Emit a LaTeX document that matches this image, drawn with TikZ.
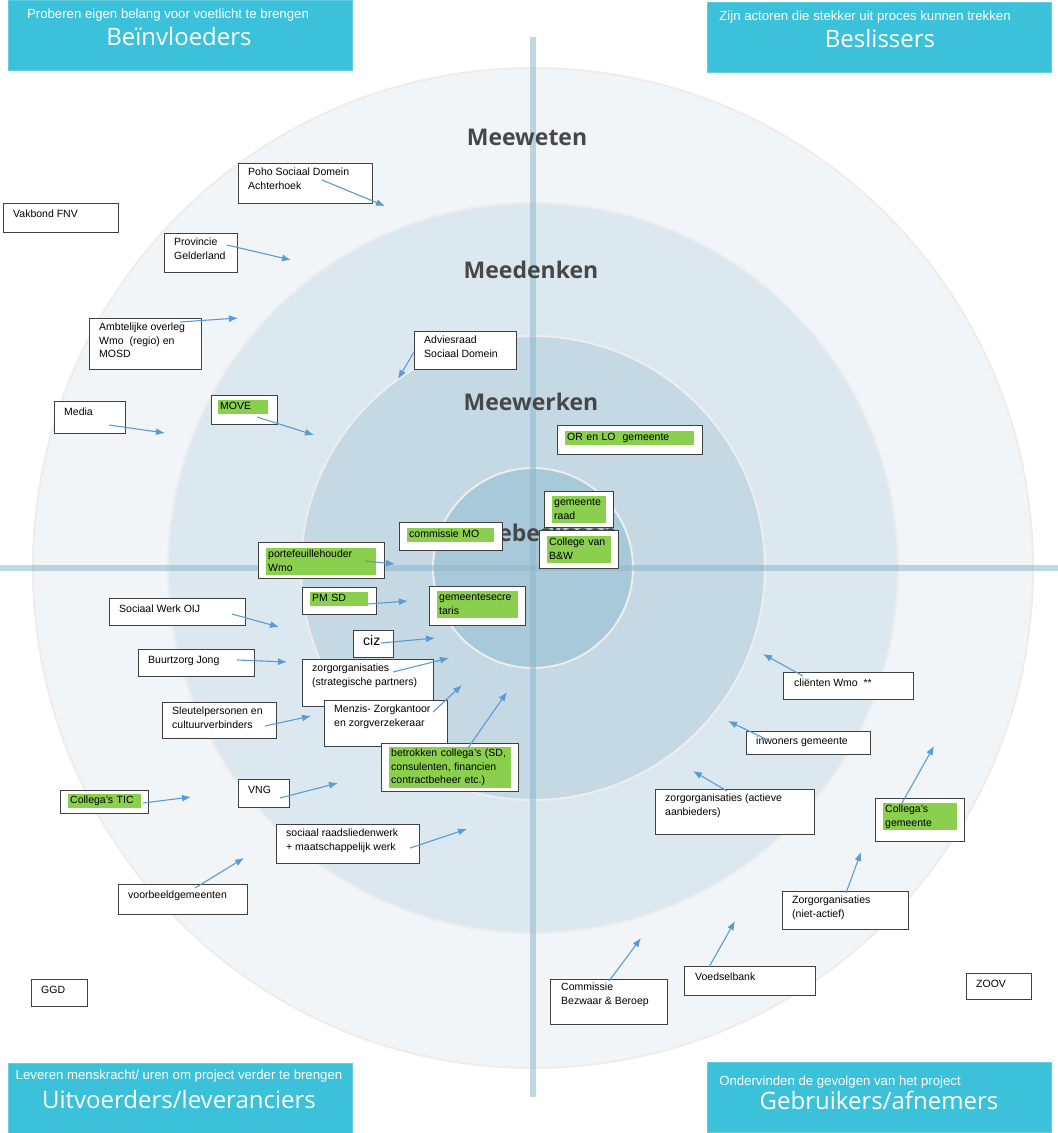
\documentclass[tikz,border=0pt]{standalone}
\usepackage{fontspec}
\setmainfont{Liberation Sans}
\newfontfamily\headfont{Open Sans}
\usetikzlibrary{arrows.meta}

\definecolor{ringA}{HTML}{F1F5F8}
\definecolor{ringB}{HTML}{DCE8EF}
\definecolor{ringC}{HTML}{C4D9E4}
\definecolor{ringD}{HTML}{A8C9D9}
\definecolor{crossblue}{HTML}{8DB8CC}
\definecolor{headblue}{RGB}{59,193,217}
\definecolor{grn}{HTML}{8BCF4E}
\definecolor{arrblue}{HTML}{5B9BD5}

\tikzset{
  ring/.style={draw=black!7, line width=2pt},
  cross/.style={draw=crossblue, opacity=0.55, line width=6pt},
  ringlabel/.style={font=\headfont\bfseries\fontsize{23}{26}\selectfont, text=black!72},
  header/.style={fill=headblue, draw=headblue!80, anchor=north west, inner sep=0pt, minimum width=344pt, minimum height=70pt},
  headsub/.style={font=\fontsize{13.2}{15}\selectfont, text=white, inner sep=0pt},
  headtitle/.style={font=\headfont\fontsize{24}{28}\selectfont, text=white, inner sep=0pt},
  actor/.style={draw=black!75, fill=white, line width=1.1pt, anchor=north west, inner sep=0pt},
  txt/.style={anchor=north west, inner xsep=2pt, inner ysep=0pt, align=left,
    execute at begin node=\strut, execute at end node=\strut},
  green/.style={txt, fill=grn},
  arr/.style={-{Latex[length=9pt,width=7pt]}, line width=1.1pt, draw=arrblue},
}

\begin{document}
\begin{tikzpicture}[x=1pt,y=-1pt]
\tikzstyle{every node}=[font=\fontsize{10.5}{13.5}\selectfont]
\useasboundingbox (0,0) rectangle (1058,1133);

% rings
\fill[ringA] (533,568) circle (500pt);
\draw[ring] (533,568) circle (500pt);
\fill[ringB] (533,568) circle (365pt);
\draw[ring] (533,568) circle (365pt);
\fill[ringC] (533,568) circle (232pt);
\draw[ring] (533,568) circle (232pt);
\fill[ringD] (533,568) circle (100pt);
\draw[ring] (533,568) circle (100pt);

\draw[cross] (0,568) -- (1058,568);
\draw[cross] (533,37) -- (533,1097);

\node[ringlabel] at (527,137) (meeweten) {Meeweten};
\node[ringlabel] at (531,270) (meedenken) {Meedenken};
\node[ringlabel] at (531,402) (meewerken) {Meewerken};
\node[ringlabel] at (540,533) (meebeslissen) {Meebeslissen};

% headers
\node[header] at (8,0) (beinv) {};
\node[headsub] at (168,15) {Proberen eigen belang voor voetlicht te brengen};
\node[headtitle] at (179,36) {Beïnvloeders};

\node[header] at (707,2) (besl) {};
\node[headsub] at (865,17) {Zijn actoren die stekker uit proces kunnen trekken};
\node[headtitle] at (880,38) {Beslissers};

\node[header] at (8,1063) (uitv) {};
\node[headsub] at (179,1076) {Leveren menskracht/ uren om project verder te brengen};
\node[headtitle] at (179,1099) {Uitvoerders/leveranciers};

\node[header] at (707,1062) (gebr) {};
\node[headsub] at (840,1082) {Ondervinden de gevolgen van het project};
\node[headtitle] at (879,1100) {Gebruikers/afnemers};

% actors, upper left
\node[actor, minimum width=115pt, minimum height=29pt] at (3,203) (vakbond) {};
\node[txt] at ([shift={(8,5)}]vakbond.north west) {Vakbond FNV};

\node[actor, minimum width=134pt, minimum height=40pt] at (238,163) (poho) {};
\node[txt] at ([shift={(8,5)}]poho.north west) {Poho Sociaal Domein\\Achterhoek};

\node[actor, minimum width=73pt, minimum height=39pt] at (164,233) (provincie) {};
\node[txt] at ([shift={(8,5)}]provincie.north west) {Provincie\\Gelderland};

\node[actor, minimum width=112pt, minimum height=51pt] at (89,318) (ambtelijk) {};
\node[txt] at ([shift={(8,5)}]ambtelijk.north west) {Ambtelijke overleg\\Wmo\ \ (regio) en\\MOSD};

\node[actor, minimum width=102pt, minimum height=38pt] at (414,331) (adviesraad) {};
\node[txt] at ([shift={(8,5)}]adviesraad.north west) {Adviesraad\\Sociaal Domein};

\node[actor, minimum width=71pt, minimum height=32pt] at (54,401) (media) {};
\node[txt] at ([shift={(8,5)}]media.north west) {Media};

\node[actor, minimum width=66pt, minimum height=29pt] at (211,395) (move) {};
\node[green, text width=46pt] at ([shift={(7,5)}]move.north west) {MOVE};

\node[actor, minimum width=145pt, minimum height=29pt] at (557,425) (orlo) {};
\node[green, text width=125pt] at ([shift={(8,6)}]orlo.north west) {OR en LO\ \ gemeente};

% centre
\node[actor, minimum width=103pt, minimum height=28pt] at (399,522) (commissie) {};
\node[green, text width=83pt] at ([shift={(8,6)}]commissie.north west) {commissie MO};

\node[actor, minimum width=126pt, minimum height=36pt] at (258,542) (portef) {};
\node[green, text width=106pt] at ([shift={(8,6)}]portef.north west) {portefeuillehouder\\Wmo};

\node[actor, minimum width=69pt, minimum height=36pt] at (544,491) (raad) {};
\node[green, text width=50pt] at ([shift={(8,5)}]raad.north west) {gemeente\\raad};

\node[actor, minimum width=79pt, minimum height=38pt] at (539,530) (college) {};
\node[green, text width=60pt] at ([shift={(8,6)}]college.north west) {College van\\B\&W};

\node[actor, minimum width=74pt, minimum height=27pt] at (302,587) (pmsd) {};
\node[green, text width=54pt] at ([shift={(8,5)}]pmsd.north west) {PM SD};

\node[actor, minimum width=96pt, minimum height=39pt] at (429,586) (secretaris) {};
\node[green, text width=77pt] at ([shift={(8,5)}]secretaris.north west) {gemeentesecre\\taris};

\node[actor, minimum width=40pt, minimum height=27pt] at (353,630) (ciz) {};
\node[txt, font=\fontsize{14}{16}\selectfont] at ([shift={(8,4)}]ciz.north west) {ciz};

\node[actor, minimum width=131pt, minimum height=47pt] at (302,659) (strategisch) {};
\node[txt] at ([shift={(8,5)}]strategisch.north west) {zorgorganisaties\\(strategische partners)};

\node[actor, minimum width=123pt, minimum height=46pt] at (324,700) (menzis) {};
\node[txt] at ([shift={(8,5)}]menzis.north west) {Menzis- Zorgkantoor\\en zorgverzekeraar};

\node[actor, minimum width=137pt, minimum height=48pt] at (381,743) (betrokken) {};
\node[green, text width=118pt] at ([shift={(8,4)}]betrokken.north west) {betrokken collega's (SD,\\consulenten, financien\\contractbeheer etc.)};

% actors, lower left
\node[actor, minimum width=136pt, minimum height=27pt] at (109,598) (sociaalwerk) {};
\node[txt] at ([shift={(8,5)}]sociaalwerk.north west) {Sociaal Werk OIJ};

\node[actor, minimum width=116pt, minimum height=27pt] at (138,649) (buurtzorg) {};
\node[txt] at ([shift={(8,5)}]buurtzorg.north west) {Buurtzorg Jong};

\node[actor, minimum width=114pt, minimum height=36pt] at (162,702) (sleutel) {};
\node[txt] at ([shift={(8,5)}]sleutel.north west) {Sleutelpersonen en\\cultuurverbinders};

\node[actor, minimum width=88pt, minimum height=23pt] at (60,790) (tic) {};
\node[green, text width=69pt] at ([shift={(8,4)}]tic.north west) {Collega's TIC};

\node[actor, minimum width=51pt, minimum height=28pt] at (238,779) (vng) {};
\node[txt] at ([shift={(8,5)}]vng.north west) {VNG};

\node[actor, minimum width=143pt, minimum height=39pt] at (276,824) (raadslieden) {};
\node[txt] at ([shift={(8,5)}]raadslieden.north west) {sociaal raadsliedenwerk\\+ maatschappelijk werk};

\node[actor, minimum width=129pt, minimum height=30pt] at (118,884) (voorbeeld) {};
\node[txt] at ([shift={(8,5)}]voorbeeld.north west) {voorbeeldgemeenten};

\node[actor, minimum width=56pt, minimum height=27pt] at (31,979) (ggd) {};
\node[txt] at ([shift={(8,5)}]ggd.north west) {GGD};

% actors, lower right
\node[actor, minimum width=130pt, minimum height=27pt] at (783,672) (clienten) {};
\node[txt] at ([shift={(9,5)}]clienten.north west) {cliënten Wmo\ \ **};

\node[actor, minimum width=124pt, minimum height=23pt] at (746,731) (inwoners) {};
\node[txt] at ([shift={(8,4)}]inwoners.north west) {inwoners gemeente};

\node[actor, minimum width=159pt, minimum height=45pt] at (655,789) (actieve) {};
\node[txt] at ([shift={(8,5)}]actieve.north west) {zorgorganisaties (actieve\\aanbieders)};

\node[actor, minimum width=89pt, minimum height=43pt] at (875,798) (collgem) {};
\node[green, text width=70pt] at ([shift={(8,5)}]collgem.north west) {Collega's\\gemeente};

\node[actor, minimum width=126pt, minimum height=38pt] at (782,891) (nietactief) {};
\node[txt] at ([shift={(8,5)}]nietactief.north west) {Zorgorganisaties\\(niet-actief)};

\node[actor, minimum width=131pt, minimum height=29pt] at (684,966) (voedsel) {};
\node[txt] at ([shift={(9,5)}]voedsel.north west) {Voedselbank};

\node[actor, minimum width=117pt, minimum height=45pt] at (550,979) (bezwaar) {};
\node[txt] at ([shift={(9,4)}]bezwaar.north west) {Commissie\\Bezwaar \& Beroep};

\node[actor, minimum width=65pt, minimum height=26pt] at (966,973) (zoov) {};
\node[txt] at ([shift={(8,5)}]zoov.north west) {ZOOV};

% arrow tips
\coordinate (poho-t) at (385,206);
\coordinate (provincie-t) at (291,260);
\coordinate (ambtelijk-t) at (238,318);
\coordinate (adviesraad-t) at (398,379);
\coordinate (media-t) at (165,433);
\coordinate (move-t) at (314,435);
\coordinate (portef-t) at (395,564);
\coordinate (pmsd-t) at (408,601);
\coordinate (ciz-t) at (435,638);
\coordinate (strategisch-t) at (449,658);
\coordinate (menzis-t) at (462,685);
\coordinate (betrokken-t) at (507,692);
\coordinate (sociaalwerk-t) at (279,627);
\coordinate (buurtzorg-t) at (287,662);
\coordinate (sleutel-t) at (311,716);
\coordinate (tic-t) at (191,797);
\coordinate (vng-t) at (338,783);
\coordinate (raadslieden-t) at (467,829);
\coordinate (voorbeeld-t) at (244,858);
\coordinate (clienten-t) at (763,654);
\coordinate (inwoners-t) at (728,721);
\coordinate (actieve-t) at (693,771);
\coordinate (collgem-t) at (934,746);
\coordinate (nietactief-t) at (861,852);
\coordinate (voedsel-t) at (735,921);
\coordinate (bezwaar-t) at (641,938);

\draw[arr] ([shift={(84,17)}]poho.north west) -- (poho-t);
\draw[arr] ([shift={(63,12)}]provincie.north west) -- (provincie-t);
\draw[arr] ([shift={(91,4)}]ambtelijk.north west) -- (ambtelijk-t);
\draw[arr] ([shift={(0,21)}]adviesraad.north west) -- (adviesraad-t);
\draw[arr] ([shift={(55,24)}]media.north west) -- (media-t);
\draw[arr] ([shift={(46,22)}]move.north west) -- (move-t);
\draw[arr] ([shift={(107,19)}]portef.north west) -- (portef-t);
\draw[arr] ([shift={(66,17)}]pmsd.north west) -- (pmsd-t);
\draw[arr] ([shift={(28,13)}]ciz.north west) -- (ciz-t);
\draw[arr] ([shift={(91,13)}]strategisch.north west) -- (strategisch-t);
\draw[arr] ([shift={(109,12)}]menzis.north west) -- (menzis-t);
\draw[arr] ([shift={(87,5)}]betrokken.north west) -- (betrokken-t);
\draw[arr] ([shift={(123,16)}]sociaalwerk.north west) -- (sociaalwerk-t);
\draw[arr] ([shift={(99,11)}]buurtzorg.north west) -- (buurtzorg-t);
\draw[arr] ([shift={(103,24)}]sleutel.north west) -- (sleutel-t);
\draw[arr] ([shift={(83,13)}]tic.north west) -- (tic-t);
\draw[arr] ([shift={(42,19)}]vng.north west) -- (vng-t);
\draw[arr] ([shift={(134,24)}]raadslieden.north west) -- (raadslieden-t);
\draw[arr] ([shift={(77,4)}]voorbeeld.north west) -- (voorbeeld-t);
\draw[arr] ([shift={(20,4)}]clienten.north west) -- (clienten-t);
\draw[arr] ([shift={(22,9)}]inwoners.north west) -- (inwoners-t);
\draw[arr] ([shift={(72,2)}]actieve.north west) -- (actieve-t);
\draw[arr] ([shift={(27,5)}]collgem.north west) -- (collgem-t);
\draw[arr] ([shift={(64,2)}]nietactief.north west) -- (nietactief-t);
\draw[arr] ([shift={(25,1)}]voedsel.north west) -- (voedsel-t);
\draw[arr] ([shift={(59,2)}]bezwaar.north west) -- (bezwaar-t);

\end{tikzpicture}
\end{document}
